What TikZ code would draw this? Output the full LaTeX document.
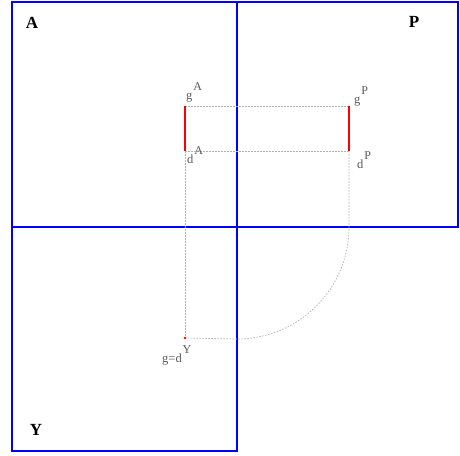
\documentclass[tikz,border=0pt]{standalone}
\usepackage{fontspec}
\setmainfont{Liberation Serif}
\newcommand{\supr}[1]{\kern0.8pt\raisebox{8.5pt}{\fontsize{12}{13}\selectfont #1}}
\begin{document}
\begin{tikzpicture}[x=1pt,y=-1pt,
  region/.style={draw=blue,line width=1.4pt},
  guide/.style={draw=black!30,dash pattern=on 1.5pt off 1.5pt,line width=0.7pt},
  seg/.style={draw=red,line width=2pt},
  lbl/.style={font=\fontsize{12.5}{13}\selectfont,text=black!65,inner sep=0pt,anchor=base west},
  ttl/.style={font=\fontsize{17}{18}\selectfont\bfseries,inner sep=0pt,anchor=center}]
\useasboundingbox (0,0) rectangle (460,455);
% regions
\draw[region] (12,2) rectangle (237,227);
\draw[region] (237,2) rectangle (458,227);
\draw[region] (12,227) rectangle (237,451);
% points
\coordinate (gA) at (185,106);
\coordinate (dA) at (185,151);
\coordinate (gP) at (349,106);
\coordinate (dP) at (349,151);
\coordinate (cP) at (349,227);
\coordinate (Yp) at (185,338);
% guides
\draw[guide] (gA) -- (gP);
\draw[guide] (dA) -- (dP);
\draw[guide] (dA) -- (Yp);
\draw[guide] (dP) -- (cP) arc[start angle=0,end angle=90,radius=112] -- (Yp);
% segments
\draw[seg] (gA) -- (dA);
\draw[seg] (gP) -- (dP);
\fill[red] (Yp) circle (1.3);
% titles
\node[ttl] (tA) at (32,23) {A};
\node[ttl] (tP) at (414,22) {P};
\node[ttl] (tY) at (36,430) {Y};
% labels
\node[lbl] (lgA) at (186,99) {g\supr{A}};
\node[lbl] (ldA) at (187,163) {d\supr{A}};
\node[lbl] (lgP) at (354,103) {g\supr{P}};
\node[lbl] (ldP) at (357,168) {d\supr{P}};
\node[lbl] (lY) at (162,362) {g=d\supr{Y}};
\end{tikzpicture}
\end{document}
